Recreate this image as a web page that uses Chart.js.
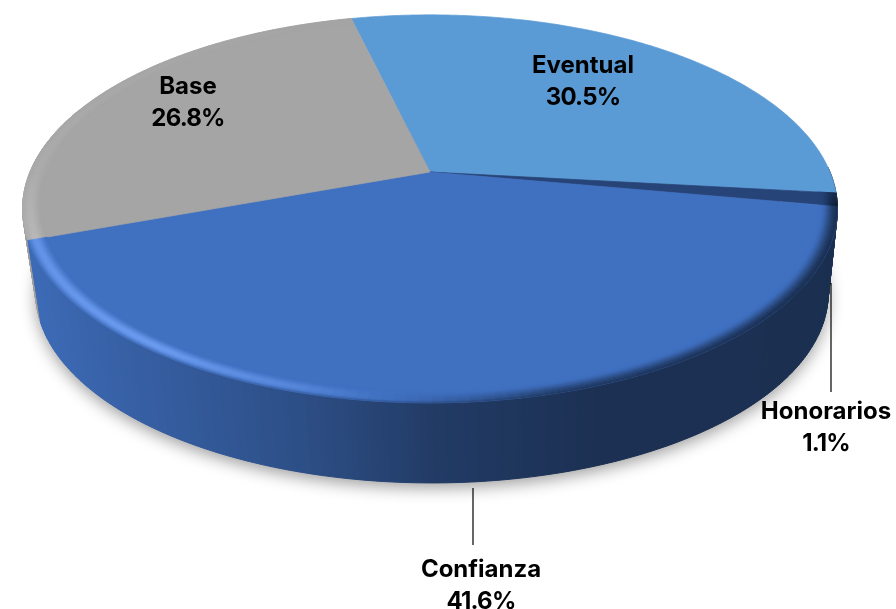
<!DOCTYPE html>
<html lang="es">
<head>
<meta charset="utf-8">
<title>Distribución por tipo de contratación</title>
<style>
html,body{margin:0;padding:0;background:#fff}
canvas{display:block}
</style>
<script src="https://cdn.jsdelivr.net/npm/chart.js@4/dist/chart.umd.js"></script>
</head>
<body>
<canvas id="c" width="896" height="609"></canvas>
<script>
const categories = ['Eventual', 'Honorarios', 'Confianza', 'Base'];
const shares = [30.5, 1.1, 41.6, 26.8];
const sliceColors = ['#5B9BD5', '#264478', '#4070C0', '#A5A5A5'];
const rotationDeg = -13.5;

const topFace = {cx: 430, cy: 172, a: 400, b: 187, p: 0.19};
const bottomFace = {cx: 432, cy: 257, a: 389, b: 183, p: 0.19};
const bevelWidth = 0.045;
const labelFont = '700 24px Inter, "Liberation Sans", sans-serif';
const labelLayout = [
  {x: 583, y: 65.5},
  {x: 826, y: 411.5, leader: {x: 831, y1: 283, y2: 392}},
  {x: 481, y: 569.5, leader: {x: 473, y1: 488, y2: 545}},
  {x: 188, y: 86.5}
];
const lineGap = 32;

const sideShade = [[30, .95], [100, .88], [200, .79], [300, .70], [433, .53], [600, .43], [900, .42]];
const bevelLight = [[0, 0], [90, -.2], [100, -1], [130, -1], [165, -.8], [180, -.2], [195, .5], [215, 1], [250, .8], [270, .3], [300, .15], [340, 0], [360, 0]];

function lerpTable(t, x) {
  if (x <= t[0][0]) return t[0][1];
  for (let i = 1; i < t.length; i++) {
    if (x <= t[i][0]) {
      const f = (x - t[i-1][0]) / (t[i][0] - t[i-1][0]);
      return t[i-1][1] + (t[i][1] - t[i-1][1]) * f;
    }
  }
  return t[t.length-1][1];
}
function hex(c) { return [1, 3, 5].map(i => parseInt(c.slice(i, i + 2), 16)); }
function mix(a, b, f) { return a.map((v, i) => v + (b[i] - v) * f); }
function css(c) { return 'rgb(' + c.map(v => Math.round(v)).join(',') + ')'; }
function smooth(e0, e1, x) { const t = Math.min(1, Math.max(0, (x - e0) / (e1 - e0))); return t * t * (3 - 2 * t); }
function clockDeg(a) { return ((a + Math.PI / 2) * 180 / Math.PI % 360 + 360) % 360; }

// angle: Chart.js arc angle; r: fraction of the outer radius
function project(f, angle, r) {
  const th = angle + Math.PI / 2;
  const X = r * Math.sin(th), Y = r * Math.cos(th);
  const w = 1 + f.p * Y;
  return [f.cx + f.a * X / w, f.cy - f.b * Y / w];
}
function sideColor(base, x) { return base.map(v => v * lerpTable(sideShade, x)); }

const pie3d = {
  id: 'pie3d',
  beforeDatasetsDraw(chart) {
    const ctx = chart.ctx;
    const arcs = chart.getDatasetMeta(0).data;
    const STEP = Math.PI / 240;
    ctx.save();

    // soft shadow of the disc
    ctx.save();
    ctx.shadowColor = 'rgba(0,0,0,0.38)';
    ctx.shadowBlur = 16;
    ctx.shadowOffsetY = 5;
    ctx.fillStyle = '#888';
    ctx.beginPath();
    for (let a = 0; a < Math.PI * 2; a += STEP * 2) {
      const p = project(bottomFace, a, 1);
      a === 0 ? ctx.moveTo(p[0], p[1]) : ctx.lineTo(p[0], p[1]);
    }
    ctx.closePath();
    ctx.fill();
    ctx.restore();

    // side walls, only where the wall faces the viewer
    ctx.lineWidth = 1;
    [3, 0, 1, 2].forEach(i => {
      const arc = arcs[i], base = hex(sliceColors[i]);
      for (let a = arc.startAngle; a < arc.endAngle; a += STEP) {
        const e = Math.min(a + STEP, arc.endAngle);
        const deg = clockDeg(a);
        if (deg < 88 || deg > 290) continue;
        const t0 = project(topFace, a, 1), t1 = project(topFace, e, 1);
        const b0 = project(bottomFace, a, 1), b1 = project(bottomFace, e, 1);
        const col = css(sideColor(base, (t0[0] + t1[0]) / 2));
        ctx.fillStyle = col; ctx.strokeStyle = col;
        ctx.beginPath();
        ctx.moveTo(t0[0], t0[1]); ctx.lineTo(t1[0], t1[1]);
        ctx.lineTo(b1[0], b1[1]); ctx.lineTo(b0[0], b0[1]);
        ctx.closePath(); ctx.fill(); ctx.stroke();
      }
    });

    // top faces
    arcs.forEach((arc, i) => {
      const col = sliceColors[i];
      ctx.fillStyle = col; ctx.strokeStyle = col; ctx.lineWidth = 0.7;
      ctx.beginPath();
      const c = project(topFace, arc.startAngle, 0);
      ctx.moveTo(c[0], c[1]);
      for (let a = arc.startAngle; a < arc.endAngle; a += STEP) {
        const p = project(topFace, a, 1);
        ctx.lineTo(p[0], p[1]);
      }
      const pe = project(topFace, arc.endAngle, 1);
      ctx.lineTo(pe[0], pe[1]);
      ctx.closePath(); ctx.fill(); ctx.stroke();
    });

    // rounded bevel along the rim: strong on the front slice, a faint lift on the back slice
    const rings = 14;
    const hi = [122, 170, 255];
    [3, 1, 2].forEach(i => {
      const arc = arcs[i];
      const base = hex(sliceColors[i]);
      const front = i === 2;
      for (let k = 0; k < rings; k++) {
        const t = (k + .5) / rings;
        const r0 = 1 - bevelWidth * (1 - k / rings), r1 = 1 - bevelWidth * (1 - (k + 1) / rings);
        const bump = smooth(0, .62, t) * (1 - smooth(.62, 1, t) * .55);
        for (let a = arc.startAngle; a < arc.endAngle; a += STEP * 2) {
          const e = Math.min(a + STEP * 2, arc.endAngle);
          const L = lerpTable(bevelLight, clockDeg(a));
          const p0 = project(topFace, a, r0), p1 = project(topFace, e, r0);
          const p2 = project(topFace, e, r1), p3 = project(topFace, a, r1);
          const sc = sideColor(base, p0[0]);
          let c = base;
          if (i === 3) c = mix(base, [200, 200, 200], Math.max(0, L) * .7 * bump);
          else if (L > 0) c = mix(base, hi, L * .8 * bump);
          else c = mix(base, sc, -L * smooth(.1, 1, t));
          if (front) c = mix(c, sc, smooth(.85, 1, t) * .5);
          const s = css(c);
          ctx.fillStyle = s; ctx.strokeStyle = s; ctx.lineWidth = .5;
          ctx.beginPath();
          ctx.moveTo(p0[0], p0[1]); ctx.lineTo(p1[0], p1[1]);
          ctx.lineTo(p2[0], p2[1]); ctx.lineTo(p3[0], p3[1]);
          ctx.closePath(); ctx.fill(); ctx.stroke();
        }
      }
    });

    // leader lines and labels
    ctx.strokeStyle = '#000'; ctx.lineWidth = 1.2;
    ctx.fillStyle = '#000';
    ctx.font = labelFont;
    ctx.textAlign = 'center';
    ctx.textBaseline = 'middle';
    categories.forEach((name, i) => {
      const l = labelLayout[i];
      if (l.leader) {
        ctx.beginPath();
        ctx.moveTo(l.leader.x, l.leader.y1);
        ctx.lineTo(l.leader.x, l.leader.y2);
        ctx.stroke();
      }
      ctx.letterSpacing = '0px';
      ctx.fillText(name, l.x, l.y);
      ctx.letterSpacing = '-0.8px';
      ctx.fillText(shares[i].toFixed(1) + '%', l.x, l.y + lineGap);
    });
    ctx.letterSpacing = '0px';
    ctx.restore();
    return false;
  }
};

new Chart(document.getElementById('c'), {
  type: 'pie',
  data: {
    labels: categories,
    datasets: [{data: shares, backgroundColor: sliceColors, borderWidth: 0}]
  },
  options: {
    responsive: false,
    animation: false,
    rotation: rotationDeg,
    plugins: {legend: {display: false}, tooltip: {enabled: false}}
  },
  plugins: [pie3d]
});
</script>
</body>
</html>
